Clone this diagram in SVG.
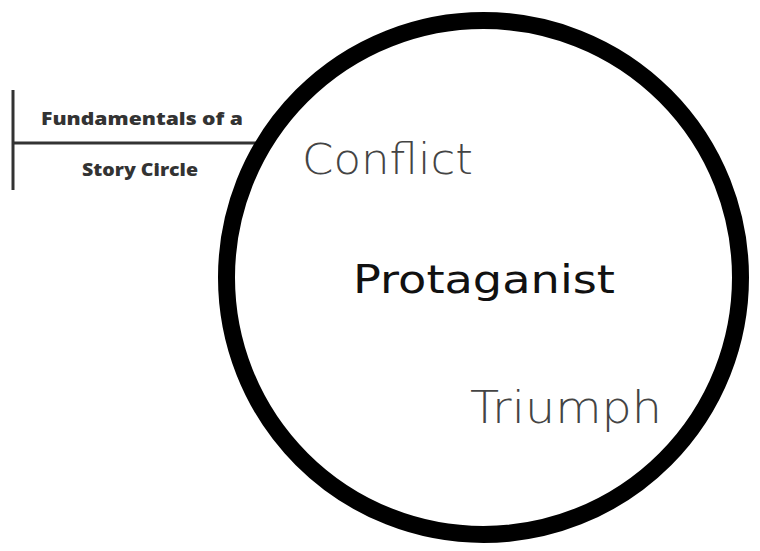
<svg xmlns="http://www.w3.org/2000/svg" width="760" height="551" viewBox="0 0 760 551">
  <style>
    .label { font-family: "Open Sans", "Liberation Sans", sans-serif; font-weight: 800; fill: #333333; }
    .thin { font-family: "DejaVu Sans", "Lato", sans-serif; font-weight: 200; fill: #444444; }
    .main { font-family: "DejaVu Sans", "Lato", sans-serif; font-weight: 400; fill: #111111; }
    .bracket { stroke: #333333; stroke-width: 3; fill: none; }
  </style>
  <rect width="760" height="551" fill="#ffffff"/>
  <g id="connectors">
    <line class="bracket" x1="13" y1="90" x2="13" y2="190"/>
    <line class="bracket" x1="13" y1="143" x2="267" y2="143"/>
  </g>
  <g id="circle">
    <circle cx="483.5" cy="277.5" r="257" fill="none" stroke="#000000" stroke-width="17"/>
  </g>
  <g id="title">
    <text class="label" x="142" y="125" font-size="18" text-anchor="middle" textLength="202" lengthAdjust="spacingAndGlyphs">Fundamentals of a</text>
    <text class="label" x="140" y="176" font-size="18" text-anchor="middle" textLength="116" lengthAdjust="spacingAndGlyphs">Story Circle</text>
  </g>
  <g id="conflict">
    <text class="thin" x="302" y="174" font-size="43" textLength="171" lengthAdjust="spacingAndGlyphs">Conflict</text>
  </g>
  <g id="protagonist">
    <text class="main" x="353" y="293" font-size="39" textLength="262" lengthAdjust="spacingAndGlyphs">Protaganist</text>
  </g>
  <g id="triumph">
    <text class="thin" x="470" y="423" font-size="45" textLength="192" lengthAdjust="spacingAndGlyphs">Triumph</text>
  </g>
</svg>
